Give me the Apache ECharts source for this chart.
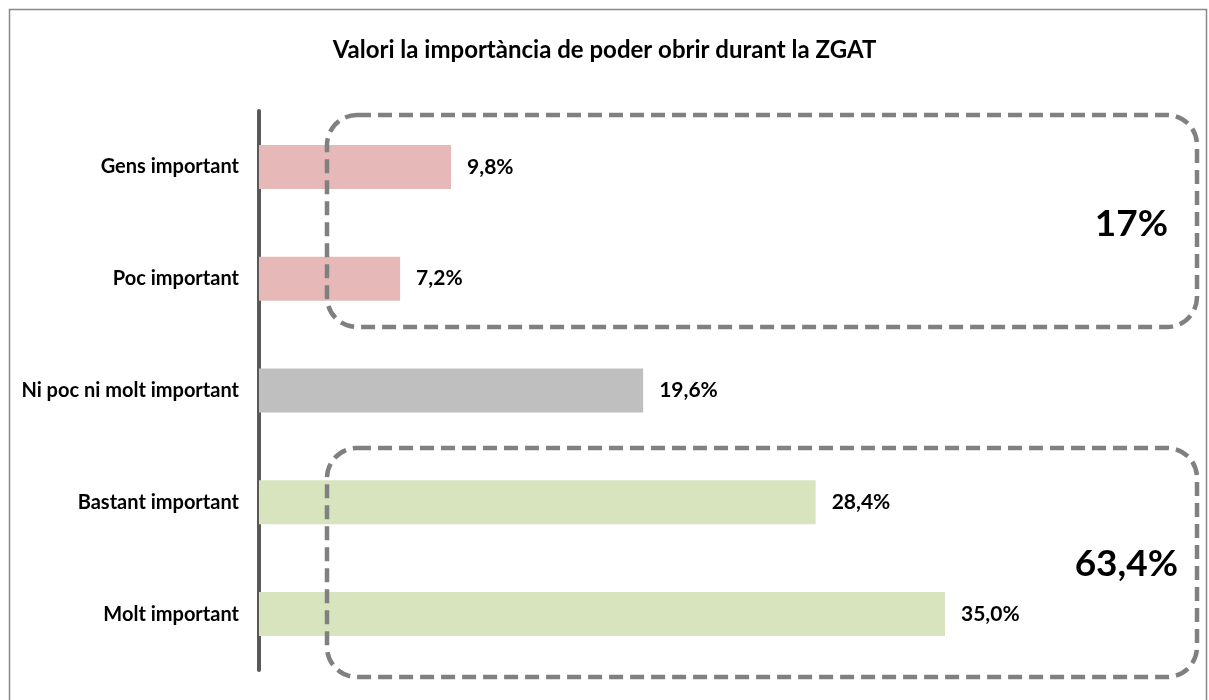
<!DOCTYPE html>
<html>
<head>
<meta charset="utf-8">
<script src="https://cdn.jsdelivr.net/npm/echarts@6/dist/echarts.min.js"></script>
<style>
  html, body { margin: 0; padding: 0; background: #fff; }
  #main { width: 1209px; height: 700px; }
</style>
</head>
<body>
<div id="main"></div>
<script>
// dades
const categories = ['Gens important', 'Poc important', 'Ni poc ni molt important', 'Bastant important', 'Molt important'];
const values = [9.8, 7.2, 19.6, 28.4, 35.0];
const barColors = ['#E6B9B8', '#E6B9B8', '#BFBFBF', '#D7E4BD', '#D7E4BD'];
const groupLabels = ['17%', '63,4%'];

const FONT = 'Lato, "Open Sans", sans-serif';

let chart = echarts.init(document.getElementById('main'));

let option = {
    backgroundColor: '#fff',
    animation: false,
    title: {
        text: 'Valori la importància de poder obrir durant la ZGAT',
        left: 'center',
        top: 33,
        textStyle: { fontFamily: FONT, fontWeight: 'bold', fontSize: 24, color: '#000' }
    },
    grid: { left: 259, right: 166, top: 111, bottom: 30 },
    xAxis: {
        type: 'value',
        min: 0,
        max: 40,
        show: false
    },
    yAxis: {
        type: 'category',
        inverse: true,
        data: categories,
        axisLine: { lineStyle: { color: '#595959', width: 4 } },
        axisTick: { show: false },
        axisLabel: {
            margin: 20,
            fontFamily: FONT, fontWeight: 'bold', fontSize: 20, color: '#000'
        }
    },
    series: [{
        type: 'bar',
        barWidth: 44,
        data: values.map((v, i) => ({ value: v, itemStyle: { color: barColors[i] } })),
        label: {
            show: true,
            position: 'right',
            distance: 16,
            fontFamily: FONT, fontWeight: 'bold', fontSize: 21, color: '#000',
            formatter: p => p.value.toFixed(1).replace('.', ',') + '%'
        }
    }],
    graphic: [
        // marc exterior
        { type: 'rect', shape: { x: 9.5, y: 9.5, width: 1197, height: 700 },
          style: { fill: 'none', stroke: '#898989', lineWidth: 1.5 }, silent: true },
        // requadres discontinus
        { type: 'rect', shape: { x: 327, y: 115, width: 870, height: 212, r: 30 },
          style: { fill: 'none', stroke: '#808080', lineWidth: 4.5, lineDash: [14, 7] }, silent: true, z: 10 },
        { type: 'rect', shape: { x: 327, y: 448, width: 870, height: 229, r: 30 },
          style: { fill: 'none', stroke: '#808080', lineWidth: 4.5, lineDash: [14, 7] }, silent: true, z: 10 },
        { type: 'text', right: 41, top: 206,
          style: { text: groupLabels[0], fontFamily: FONT, fontWeight: 'bold', fontSize: 37, fill: '#000' } },
        { type: 'text', right: 31, top: 546,
          style: { text: groupLabels[1], fontFamily: FONT, fontWeight: 'bold', fontSize: 37, fill: '#000' } }
    ]
};

chart.setOption(option);
window.onresize = chart.resize;
</script>
</body>
</html>
